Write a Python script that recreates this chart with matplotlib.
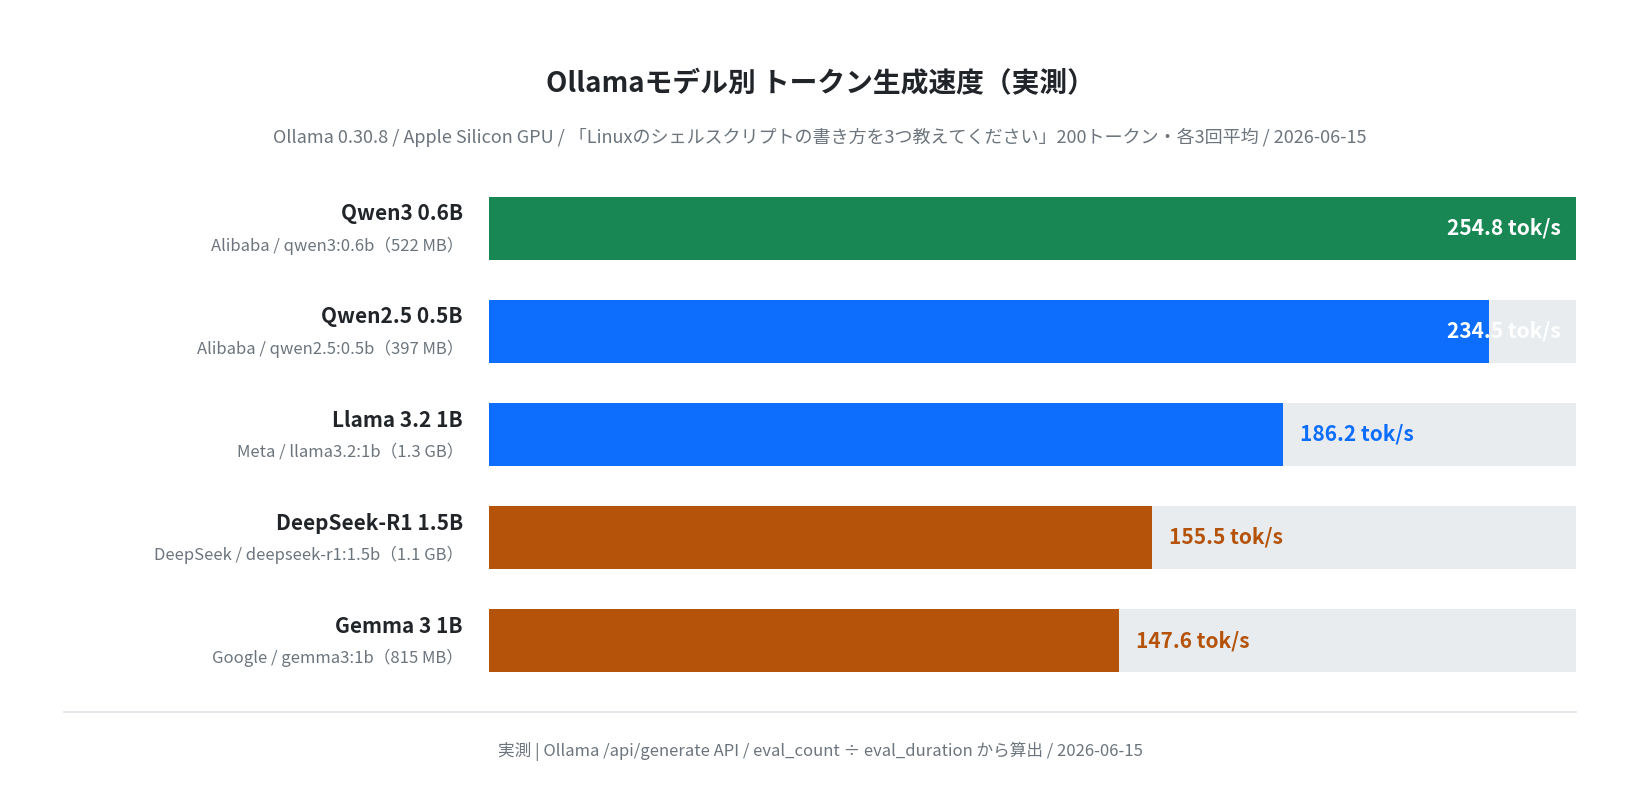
import matplotlib.pyplot as plt

plt.rcParams['font.family'] = ['Noto Sans CJK JP', 'DejaVu Sans']

models = ["Qwen3 0.6B", "Qwen2.5 0.5B", "Llama 3.2 1B", "DeepSeek-R1 1.5B", "Gemma 3 1B"]
details = ["Alibaba / qwen3:0.6b（522 MB）", "Alibaba / qwen2.5:0.5b（397 MB）",
           "Meta / llama3.2:1b（1.3 GB）", "DeepSeek / deepseek-r1:1.5b（1.1 GB）",
           "Google / gemma3:1b（815 MB）"]
speeds = [254.8, 234.5, 186.2, 155.5, 147.6]
colors = ["#198754", "#0d6efd", "#0d6efd", "#b45309", "#b45309"]

dark = "#212529"
grey = "#6c757d"
track = "#e9ecef"

fig = plt.figure(figsize=(16.4, 8.06), dpi=100)
ax = fig.add_axes([0.298, 0.166, 0.663, 0.59])
vmax = max(speeds)
y = list(range(len(models)))
h = 0.615

ax.barh(y, [vmax] * len(y), height=h, color=track, zorder=1)
ax.barh(y, speeds, height=h, color=colors, zorder=2)
ax.set_xlim(0, vmax)
ax.set_ylim(len(models) - 0.5 - (1 - h) / 2 + 0.0, -0.5 + (1 - h) / 2)
ax.axis("off")

for i, (m, d, v, c) in enumerate(zip(models, details, speeds, colors)):
    ax.text(-6, i - 0.14, m, ha="right", va="center", fontsize=15, fontweight="bold", color=dark)
    ax.text(-6, i + 0.17, d, ha="right", va="center", fontsize=12, color=grey)
    label = f"{v} tok/s"
    if v / vmax > 0.9:
        ax.text(vmax - 3.5, i, label, ha="right", va="center", fontsize=15,
                fontweight="bold", color="white", zorder=3)
    else:
        ax.text(v + 4, i, label, ha="left", va="center", fontsize=15,
                fontweight="bold", color=c, zorder=3)

fig.text(0.5, 0.896, "Ollamaモデル別 トークン生成速度（実測）", ha="center", va="center",
         fontsize=20, fontweight="bold", color=dark)
fig.text(0.5, 0.829, "Ollama 0.30.8 / Apple Silicon GPU / 「Linuxのシェルスクリプトの書き方を3つ教えてください」200トークン・各3回平均 / 2026-06-15",
         ha="center", va="center", fontsize=13, color=grey)
fig.add_artist(plt.Line2D([0.039, 0.961], [0.117, 0.117], color="#dee2e6", lw=1.2))
fig.text(0.5, 0.068, "実測 | Ollama /api/generate API / eval_count ÷ eval_duration から算出 / 2026-06-15",
         ha="center", va="center", fontsize=12, color=grey)

fig.savefig("out.png", facecolor="white")
